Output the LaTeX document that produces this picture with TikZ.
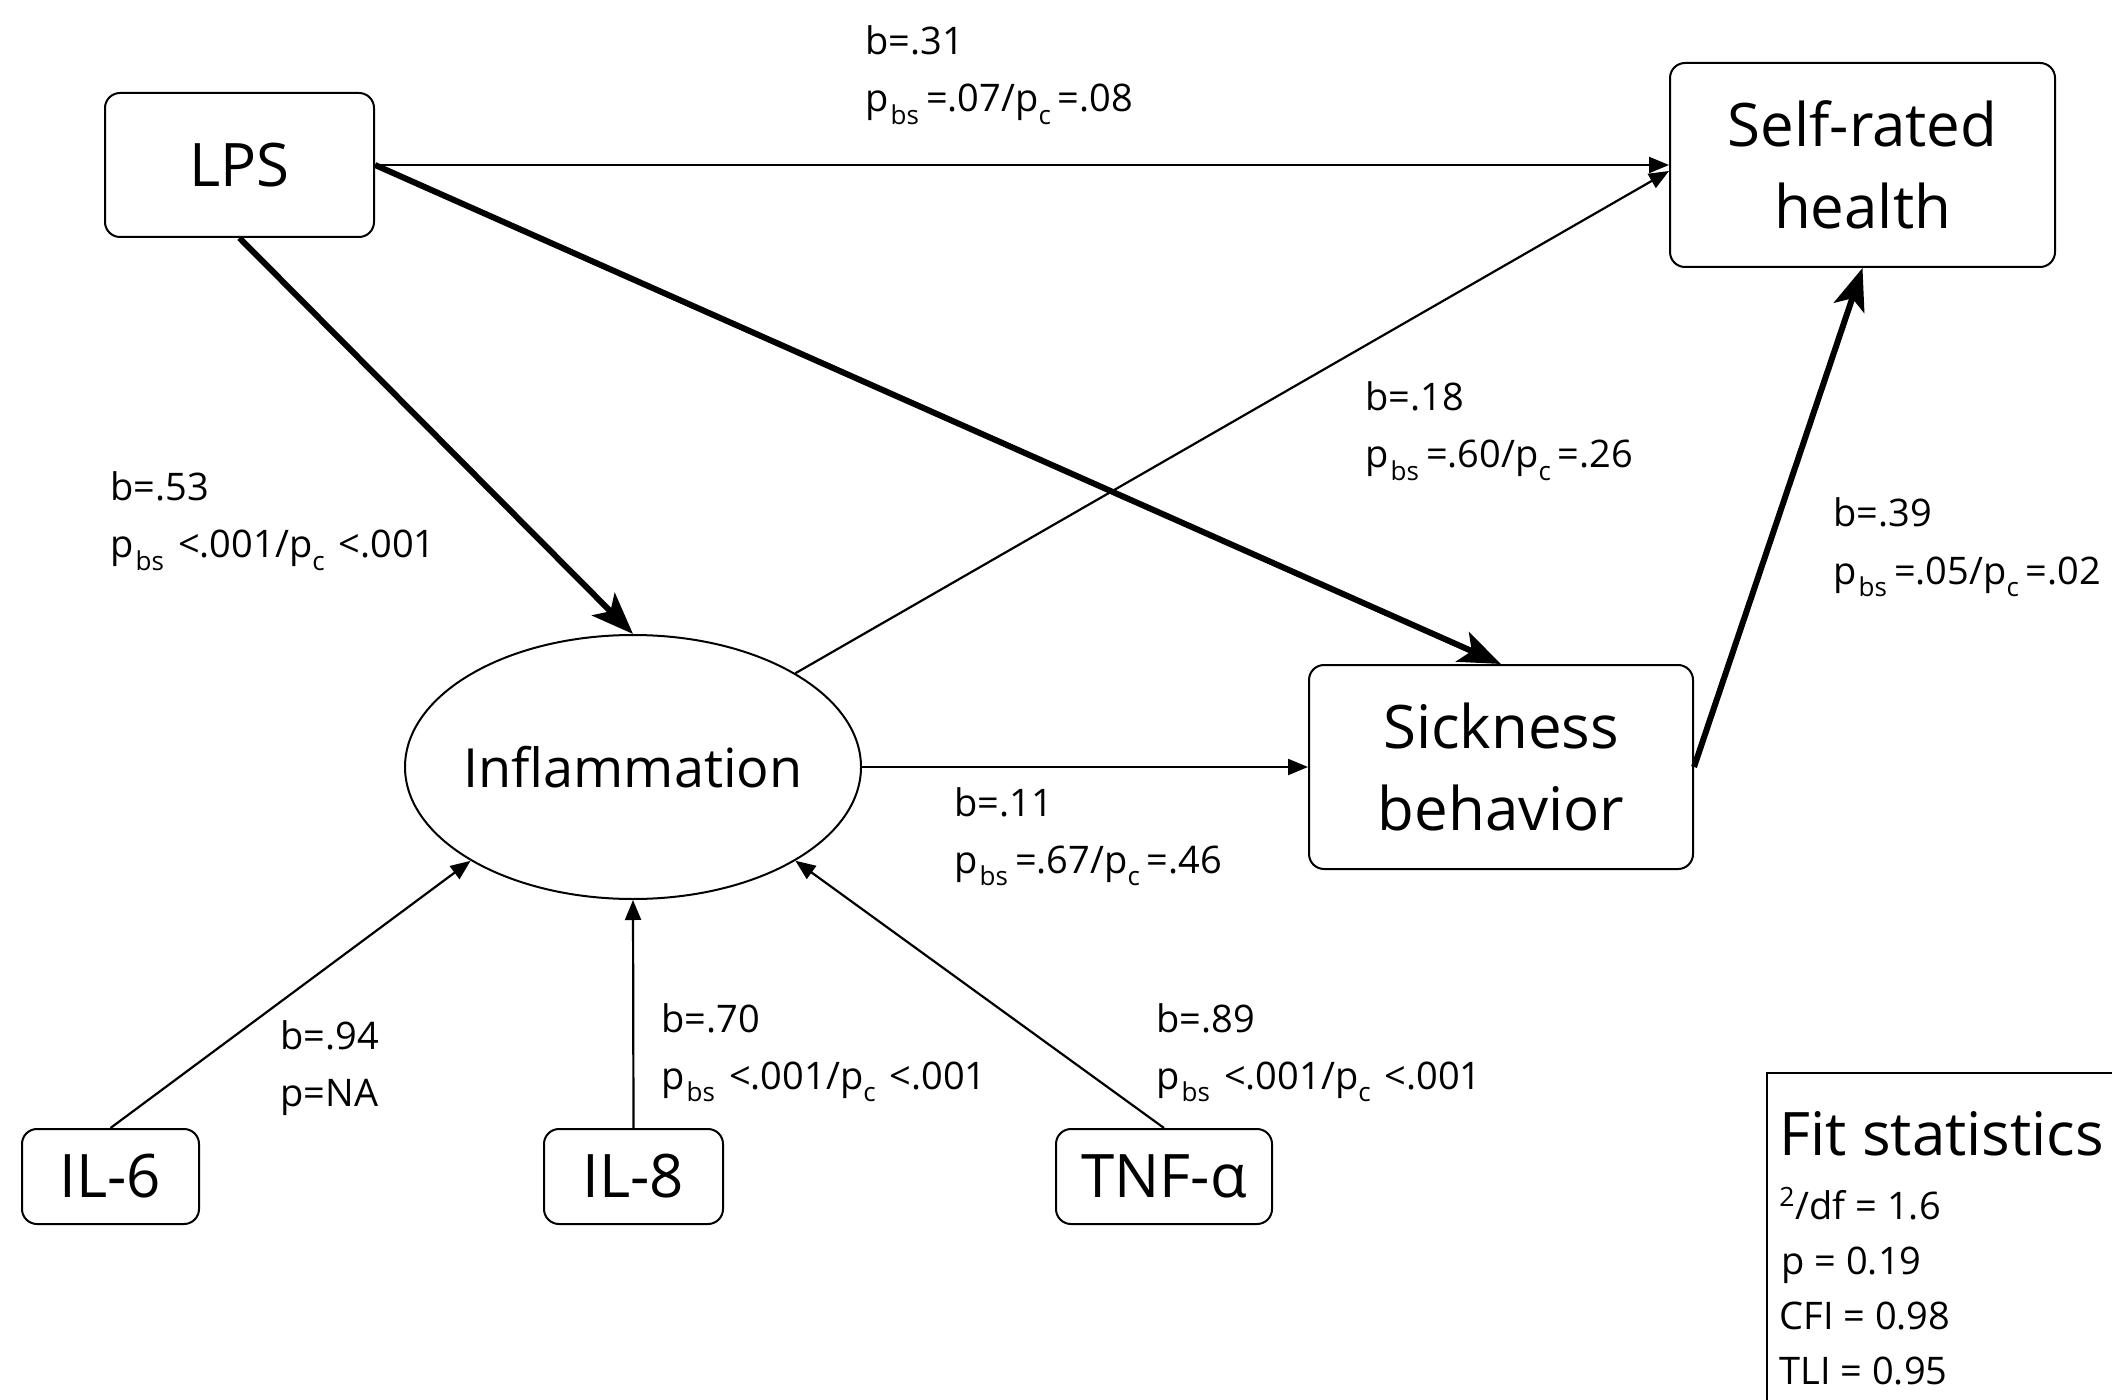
\documentclass[tikz,border=0pt]{standalone}
\usepackage{fontspec}
\setmainfont{Open Sans}
\usetikzlibrary{arrows.meta,shapes.geometric}
\newcommand{\lsub}[1]{\raisebox{-0.33em}{\fontsize{13}{13}\selectfont #1}}
\newcommand{\edgelabel}[5]{%
  \node[lbl] (#1a) at (#2,#3) {#4};
  \node[lbl] (#1b) at (#2,#3+57) {#5};}
\newcommand{\pq}[2]{p\hspace{1pt}\lsub{bs}\hspace{3.5pt}=#1/p\lsub{c}\hspace{3.5pt}=#2}
\newcommand{\pl}{p\hspace{1pt}\lsub{bs}\hspace{7pt}<.001/p\lsub{c}\hspace{7pt}<.001}
\begin{document}
\begin{tikzpicture}[x=0.5pt,y=-0.5pt,
  box/.style={draw, line width=1pt, rounded corners=7.5pt, inner sep=0pt, align=center,
    font=\fontsize{30}{41}\selectfont},
  lbl/.style={anchor=base west, inner sep=0pt, font=\fontsize{19}{23}\selectfont},
  thin/.style={line width=1.1pt, -{Triangle[length=10pt,width=8pt]}},
  thick/.style={line width=3pt, -{Stealth[length=21pt,width=16pt,inset=5pt]}}]
\useasboundingbox (0,0) rectangle (2112,1400);

\node[box, minimum width=134.5pt, minimum height=72pt] (lps) at (239.5,165) {LPS};
\node[box, minimum width=192.5pt, minimum height=102pt] (self) at (1862.5,165) {Self-rated\\health};
\node[box, minimum width=192pt, minimum height=102pt] (sick) at (1501,767) {Sickness\\behavior};
\node[draw, ellipse, line width=1pt, inner sep=0pt, minimum width=228pt, minimum height=132pt,
  font=\fontsize{27}{30}\selectfont] (inf) at (633,767) {\makebox[0pt]{Inflammation}};
\node[box, minimum width=88.5pt, minimum height=47.5pt] (il6) at (110.5,1176.5) {IL-6};
\node[box, minimum width=89.5pt, minimum height=47.5pt] (il8) at (633.5,1176.5) {IL-8};
\node[box, minimum width=108pt, minimum height=47.5pt] (tnf) at (1164,1176.5) {TNF-α};

\draw[thin] (lps.east) -- (self.west);
\draw[thick] (lps.east) -- (sick.north);
\draw[thick] (lps.south) -- (inf.north);
\draw[thin] (inf.30) -- ([yshift=-3pt]self.west);
\draw[thin] (inf.east) -- (sick.west);
\draw[thick] (sick.east) -- (self.south);
\draw[thin] (il6.north) -- (inf.210);
\draw[thin] (il8.north) -- (inf.south);
\draw[thin] (tnf.north) -- (inf.330);

\edgelabel{l31}{865}{55}{b=.31}{\pq{.07}{.08}}
\edgelabel{l53}{110}{501}{b=.53}{\pl}
\edgelabel{l18}{1365}{411}{b=.18}{\pq{.60}{.26}}
\edgelabel{l39}{1833}{527}{b=.39}{\pq{.05}{.02}}
\edgelabel{l11}{954}{816}{b=.11}{\pq{.67}{.46}}
\edgelabel{l94}{280}{1049}{b=.94}{p=NA}
\edgelabel{l70}{661}{1032}{b=.70}{\pl}
\edgelabel{l89}{1156}{1032}{b=.89}{\pl}

\draw[line width=1pt] (1767,1400) -- (1767,1073) -- (2112,1073);
\node[anchor=base west, inner sep=0pt, font=\fontsize{30}{30}\selectfont] (fit) at (1779,1155) {Fit statistics};
\node[lbl] (fit1) at (1779,1219) {\textsuperscript{2}/df = 1.6};
\node[lbl] (fit2) at (1781,1274) {p = 0.19};
\node[lbl] (fit3) at (1779,1329) {CFI = 0.98};
\node[lbl] (fit4) at (1779,1384) {TLI = 0.95};
\end{tikzpicture}
\end{document}
